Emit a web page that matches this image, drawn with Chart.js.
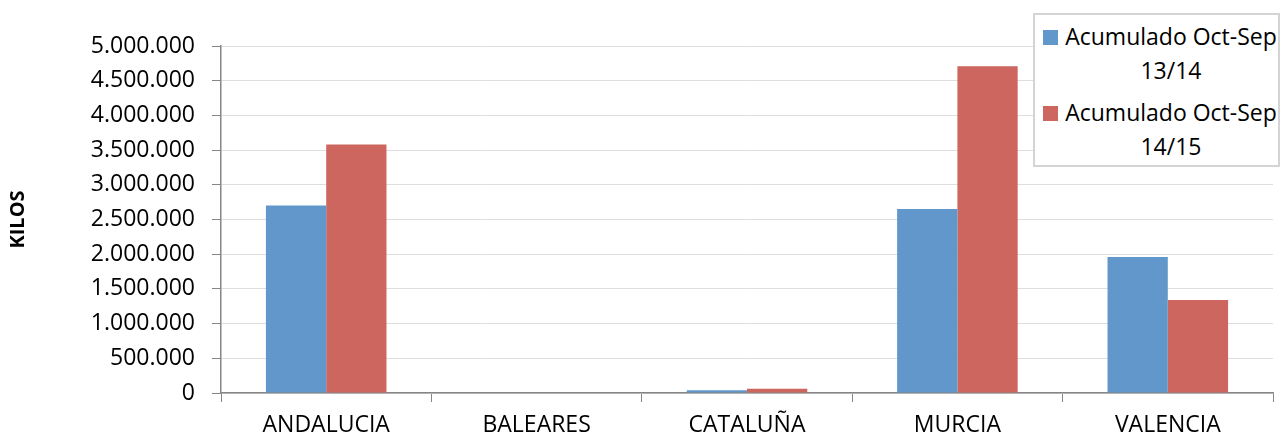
<!DOCTYPE html>
<html>
<head>
<meta charset="utf-8">
<script src="https://cdn.jsdelivr.net/npm/chart.js@4/dist/chart.umd.min.js"></script>
<style>
  html, body { margin: 0; padding: 0; background: #fff; }
  #wrap { position: relative; width: 1283px; height: 439px; }
  #legend {
    position: absolute; left: 1033px; top: 13px; width: 243px; height: 150px;
    border: 2px solid #d4d4d4; background: #fff;
    font-family: "Open Sans", sans-serif; font-size: 23px; color: #000;
  }
  .item { position: absolute; left: 8px; }
  .box { position: absolute; left: 0; width: 15px; height: 15px; }
  .txt { position: absolute; left: 20px; width: 216px; text-align: center; line-height: 34px; white-space: nowrap; }
</style>
</head>
<body>
<div id="wrap">
  <canvas id="c" width="1283" height="439"></canvas>
  <div id="legend"></div>
</div>
<script>
// data
const regions = ["ANDALUCIA", "BALEARES", "CATALUÑA", "MURCIA", "VALENCIA"];
const serie1314 = [2700000, 0, 40000, 2650000, 1960000];
const serie1415 = [3580000, 0, 60000, 4710000, 1340000];
const seriesNames = ["Acumulado Oct-Sep 13/14", "Acumulado Oct-Sep 14/15"];
const colors = ["#6197CA", "#CD665F"];

function fmt(v) {
  return String(v).replace(/\B(?=(\d{3})+(?!\d))/g, ".");
}

const font = { family: "Open Sans, sans-serif", size: 23 };

new Chart(document.getElementById("c").getContext("2d"), {
  type: "bar",
  data: {
    labels: regions,
    datasets: [
      { label: seriesNames[0], data: serie1314, backgroundColor: colors[0] },
      { label: seriesNames[1], data: serie1415, backgroundColor: colors[1] }
    ]
  },
  options: {
    responsive: false,
    animation: false,
    layout: { padding: { top: 46, right: 10, left: 0, bottom: 0 } },
    categoryPercentage: 0.573,
    barPercentage: 1,
    plugins: { legend: { display: false }, tooltip: { enabled: false } },
    scales: {
      x: {
        grid: { offset: true, drawOnChartArea: false, tickLength: 9, tickColor: "#868686" },
        border: { color: "#868686", width: 1.5 },
        ticks: { font: font, color: "#000", padding: 10, maxRotation: 0 },
        afterFit: s => { s.height = 439 - 393; }
      },
      y: {
        min: 0, max: 5000000,
        grid: { color: "#dedede", tickLength: 9, tickColor: "#868686" },
        border: { color: "#868686", width: 1.5 },
        ticks: { stepSize: 500000, font: font, color: "#000", padding: 17, callback: v => fmt(v) },
        title: { display: true, text: "KILOS", font: { family: "Open Sans, sans-serif", size: 20, weight: "bold" }, color: "#000", padding: { top: 6, bottom: 0 } },
        afterFit: s => { s.width = 221; }
      }
    }
  }
});

// legend with wrapped, centred labels like the original
const leg = document.getElementById("legend");
seriesNames.forEach((name, i) => {
  const it = document.createElement("div");
  it.className = "item";
  it.style.top = (i * 76 + 4) + "px";
  const parts = name.split(" ");
  const last = parts.pop();
  it.innerHTML = '<div class="box" style="top:11px;background:' + colors[i] + '"></div>' +
    '<div class="txt">' + parts.join(" ") + '<br>' + last + '</div>';
  leg.appendChild(it);
});
</script>
</body>
</html>
